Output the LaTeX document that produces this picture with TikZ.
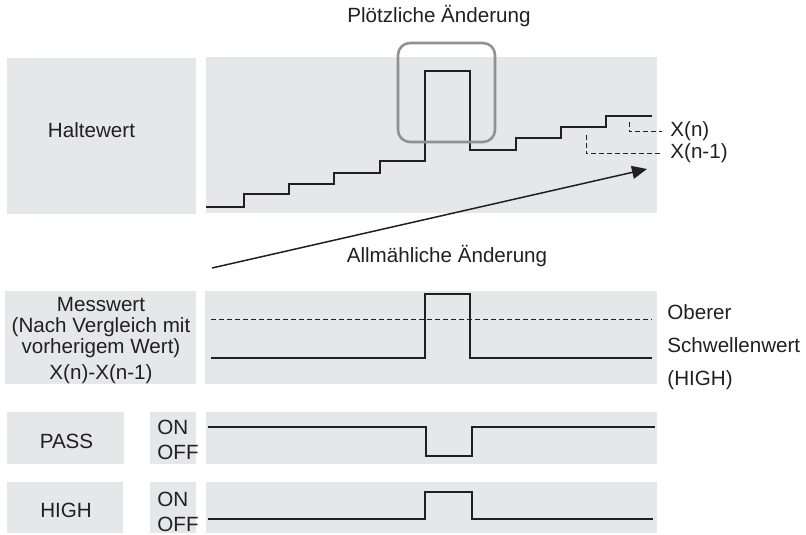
\documentclass[tikz,border=0pt]{standalone}
\usepackage{fontspec}
\setmainfont{Liberation Sans}
\usepackage{xcolor}
\usepackage{tikz}
\usetikzlibrary{arrows.meta, positioning, fit}

\definecolor{panelgray}{RGB}{230,231,232}
\definecolor{ink}{RGB}{35,31,32}
\definecolor{framegray}{RGB}{145,145,145}

\begin{document}
\begin{tikzpicture}[
  x=0.5pt, y=-0.5pt,
  every node/.style={font=\fontsize{10.3}{10.5}\selectfont, text=ink},
  panel/.style={rectangle, fill=panelgray, inner sep=0pt, outer sep=0pt},
  frame/.style={rectangle, draw=framegray, line width=1.3pt, rounded corners=6pt, inner sep=0pt},
  txt/.style={inner sep=0pt, anchor=base},
  onoff/.style={inner sep=0pt, anchor=west, align=left},
  xlbl/.style={inner sep=4pt, anchor=base west},
  signal/.style={draw=ink, line width=1.15pt},
  guide/.style={draw=ink, line width=0.5pt, dash pattern=on 2.5pt off 1.5pt},
  arr/.style={-{Triangle[length=7.5pt, width=6.5pt]}, draw=ink, line width=0.75pt}
]
\useasboundingbox (0,0) rectangle (806,534);

% Panels
\node[panel, fit={(7,58) (196,214)}] (hold) {};
\node[panel, fit={(206,57) (657,213)}] (holdplot) {};
\node[panel, fit={(5,291) (196,384)}] (meas) {};
\node[panel, fit={(205,291) (657,384)}] (measplot) {};
\node[panel, fit={(7,412) (124,464)}] (pass) {};
\node[panel, fit={(150,412) (196,464)}] (passio) {};
\node[panel, fit={(206,412) (657,464)}] (passplot) {};
\node[panel, fit={(7,482) (123,533)}] (high) {};
\node[panel, fit={(150,482) (196,533)}] (highio) {};
\node[panel, fit={(206,482) (657,533)}] (highplot) {};

% Labels
\node[txt] (sudden) at (439,23) {Plötzliche Änderung};
\node[txt] (holdlbl) at (91.5,138) {Haltewert};
\node[txt] (gradual) at (447,262) {Allmähliche Änderung};
\node[align=center, inner sep=0pt] (measlbl) at (101,341) {Messwert\\(Nach Vergleich mit\\vorherigem Wert)\\[2.5pt]X(n)-X(n-1)};
\node[align=left, inner sep=0pt, anchor=west] (limit) at (667,347) {Oberer\\[6pt]Schwellenwert\\[6pt](HIGH)};
\node[inner sep=0pt] (passlbl) at (66.5,441) {PASS};
\node[inner sep=0pt] (highlbl) at (66,510) {HIGH};
\node[onoff] (passstate) at (157,440) {ON\\[2pt]OFF};
\node[onoff] (highstate) at (157,512) {ON\\[2pt]OFF};
\node[xlbl] (xn) at (662,137) {X(n)};
\node[xlbl] (xprev) at (662,159) {X(n-1)};

% Held value
\draw[signal] (206,207) -- (244,207) -- (244,194) -- (289,194) -- (289,184)
  -- (334,184) -- (334,173) -- (380,173) -- (380,161) -- (425,161) -- (425,71)
  -- (470,71) -- (470,150) -- (516,150) -- (516,138) -- (561,138) -- (561,127)
  -- (606,127) -- (606,116) -- (652,116);
\node[frame, fit={(398,43) (495,142)}] (jump) {};

\coordinate (xnmark) at (629,122);
\coordinate (xprevmark) at (586,135);
\draw[guide] (xnmark) |- (xn.west);
\draw[guide] (xprevmark) |- (xprev.west);

\coordinate (gradstart) at (212,268);
\coordinate (gradend) at (647,169);
\draw[arr] (gradstart) -- (gradend);

% Measured value
\draw[guide] (211,319) -- (652,319);
\draw[signal] (211,358) -- (425,358) -- (425,294) -- (470,294) -- (470,358) -- (652,358);

% Outputs
\draw[signal] (208,427) -- (426,427) -- (426,456) -- (472,456) -- (472,427) -- (655,427);
\draw[signal] (208,519) -- (425,519) -- (425,492) -- (472,492) -- (472,519) -- (653,519);

\end{tikzpicture}
\end{document}
